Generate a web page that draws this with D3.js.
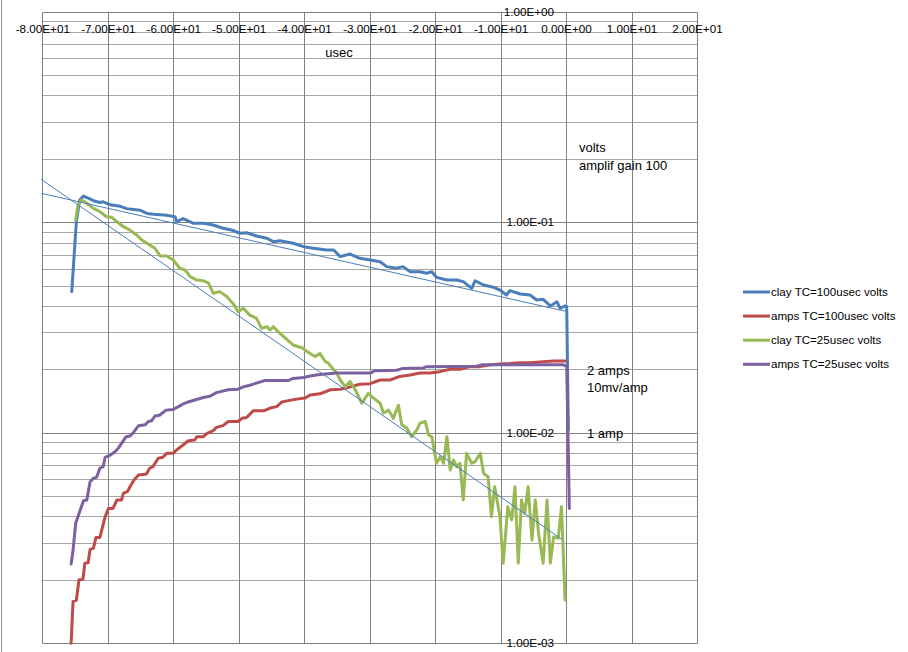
<!DOCTYPE html>
<html>
<head>
<meta charset="utf-8">
<script src="https://cdn.jsdelivr.net/npm/d3@7"></script>
<style>
  body { margin: 0; background: #fff; }
  text { font-family: "Liberation Sans", Arial, sans-serif; fill: #000; }
</style>
</head>
<body>
<script>
// usec, volts
const clay100 = [[-75.5,0.0468],[-74.8,0.1005],[-74.3,0.1275],[-73.7,0.133],[-73.2,0.131],[-72.2,0.1265],[-71.2,0.124],[-70.7,0.125],[-69.6,0.121],[-68.1,0.119],[-67.1,0.116],[-66.1,0.115],[-65.1,0.114],[-64.0,0.110],[-63.0,0.109],[-61.0,0.108],[-59.7,0.106],[-59.5,0.1005],[-58.5,0.104],[-56.9,0.0988],[-55.4,0.0988],[-53.9,0.097],[-52.4,0.0936],[-51.1,0.0918],[-49.8,0.0886],[-48.8,0.0891],[-47.3,0.086],[-45.7,0.0839],[-44.7,0.0808],[-43.7,0.0817],[-41.7,0.0794],[-40.1,0.0765],[-38.6,0.0752],[-36.6,0.0738],[-35.5,0.0738],[-34.5,0.0686],[-33.0,0.0706],[-31.5,0.0674],[-29.9,0.0661],[-28.4,0.0649],[-27.4,0.0615],[-25.9,0.0604],[-24.9,0.0615],[-23.8,0.0582],[-22.3,0.0582],[-21.3,0.0572],[-20.5,0.0582],[-19.8,0.0547],[-18.2,0.0531],[-16.7,0.0531],[-15.7,0.0522],[-14.4,0.0485],[-13.9,0.0527],[-12.6,0.0503],[-11.1,0.0491],[-10.1,0.0476],[-9.1,0.0451],[-8.6,0.0473],[-7.0,0.0456],[-5.5,0.0451],[-4.5,0.0427],[-3.5,0.043],[-2.4,0.040],[-1.4,0.0419],[-0.9,0.039],[-0.15,0.040],[0.1,0.0398],[0.35,0.0103]];

const amps100 = [[-75.6,0.001],[-75.3,0.00158],[-74.8,0.0016],[-74.4,0.002],[-73.8,0.00201],[-73.5,0.0024],[-73.0,0.00241],[-72.7,0.00279],[-72.2,0.00282],[-71.8,0.00318],[-71.2,0.00318],[-70.4,0.00399],[-69.9,0.00437],[-69.2,0.00437],[-68.6,0.00479],[-67.9,0.00479],[-67.6,0.00516],[-67.0,0.00525],[-66.6,0.00554],[-66.0,0.00596],[-65.3,0.0063],[-64.1,0.00637],[-63.6,0.00678],[-63.1,0.0069],[-62.3,0.00756],[-61.6,0.00764],[-61.0,0.00798],[-60.0,0.00798],[-59.5,0.00828],[-58.5,0.00874],[-57.7,0.00916],[-56.7,0.00923],[-56.4,0.00957],[-55.4,0.00957],[-54.9,0.0099],[-53.9,0.01022],[-53.4,0.0106],[-52.4,0.0108],[-51.6,0.0113],[-50.1,0.0113],[-49.5,0.0117],[-48.8,0.0118],[-47.8,0.0127],[-46.2,0.0127],[-45.2,0.0131],[-44.2,0.0133],[-43.4,0.0140],[-42.4,0.0142],[-41.4,0.0144],[-39.9,0.0146],[-39.1,0.0151],[-37.6,0.0153],[-36.0,0.0160],[-34.5,0.0161],[-33.0,0.0165],[-31.5,0.0170],[-29.9,0.0171],[-28.4,0.0178],[-26.9,0.0178],[-25.4,0.0185],[-23.8,0.0188],[-22.3,0.0192],[-20.8,0.0192],[-19.3,0.0195],[-17.7,0.0200],[-16.2,0.0200],[-14.7,0.0206],[-13.1,0.0206],[-11.6,0.0210],[-10.1,0.0212],[-8.6,0.0213],[-7.0,0.0215],[-5.5,0.0215],[-4.0,0.0217],[-1.9,0.0219],[-0.15,0.0219]];

const clay25 = [[-74.9,0.1024],[-74.6,0.1185],[-74.2,0.1265],[-74.0,0.1275],[-73.2,0.123],[-72.2,0.1164],[-71.2,0.1122],[-70.2,0.1062],[-69.4,0.1055],[-68.6,0.1005],[-67.6,0.0952],[-66.8,0.0925],[-65.6,0.087],[-64.8,0.0823],[-63.6,0.0779],[-62.8,0.0752],[-62.0,0.0691],[-61.0,0.0691],[-60.0,0.0661],[-59.0,0.0604],[-58.2,0.0593],[-57.4,0.0551],[-56.4,0.0531],[-55.4,0.0527],[-54.6,0.0513],[-53.9,0.046],[-52.9,0.0468],[-51.8,0.0443],[-50.8,0.0409],[-50.1,0.0376],[-49.3,0.039],[-48.3,0.0362],[-47.3,0.035],[-46.5,0.0313],[-45.7,0.0319],[-45.2,0.0308],[-44.7,0.0319],[-44.0,0.0302],[-42.7,0.0278],[-41.7,0.0261],[-40.9,0.0256],[-40.1,0.0252],[-39.9,0.0247],[-39.1,0.0238],[-38.3,0.023],[-37.6,0.0238],[-36.8,0.0218],[-36.3,0.0214],[-35.5,0.0199],[-35.0,0.0192],[-34.5,0.0178],[-33.7,0.0165],[-33.0,0.0175],[-32.2,0.016],[-31.2,0.0138],[-30.2,0.0154],[-29.4,0.0146],[-28.4,0.0138],[-27.9,0.0124],[-27.1,0.0128],[-26.4,0.0117],[-25.6,0.0135],[-25.1,0.0109],[-24.3,0.0105],[-23.6,0.00957],[-22.8,0.0103],[-22.3,0.0111],[-21.5,0.0113],[-21.0,0.00975],[-20.5,0.00957],[-19.8,0.00716],[-19.2,0.00769],[-18.7,0.00716],[-18.2,0.00957],[-17.7,0.00665],[-17.2,0.00742],[-16.7,0.0069],[-16.2,0.00716],[-15.7,0.00479],[-15.2,0.00798],[-14.4,0.00716],[-13.9,0.00728],[-13.1,0.00798],[-12.6,0.00641],[-11.9,0.00618],[-11.4,0.00399],[-10.9,0.00554],[-10.1,0.00399],[-9.6,0.0024],[-8.9,0.00445],[-8.3,0.00385],[-7.8,0.00554],[-7.3,0.0024],[-6.8,0.00479],[-6.3,0.00414],[-5.8,0.00554],[-5.2,0.00309],[-4.7,0.00479],[-4.2,0.00333],[-3.5,0.0024],[-2.9,0.00479],[-2.4,0.0024],[-1.9,0.0032],[-1.2,0.00315],[-0.7,0.00445],[-0.15,0.0016]];

const amps25 = [[-75.6,0.00238],[-75.3,0.00277],[-74.9,0.00371],[-74.3,0.00421],[-73.7,0.00475],[-73.2,0.00479],[-72.7,0.00585],[-72.2,0.00607],[-71.7,0.00614],[-71.2,0.00678],[-70.7,0.0069],[-70.4,0.00764],[-69.6,0.00783],[-68.9,0.00812],[-68.4,0.00843],[-67.9,0.0089],[-67.2,0.00957],[-66.6,0.00965],[-66.1,0.01],[-65.3,0.0108],[-64.3,0.0109],[-63.8,0.0113],[-63.3,0.0114],[-62.8,0.0120],[-62.1,0.0121],[-61.1,0.0128],[-60.0,0.0129],[-59.2,0.0133],[-58.5,0.0137],[-57.7,0.0140],[-56.7,0.0143],[-55.4,0.0147],[-54.4,0.0149],[-53.4,0.0155],[-51.6,0.0160],[-50.1,0.0161],[-49.3,0.0165],[-48.3,0.0168],[-47.3,0.0172],[-46.0,0.0177],[-42.4,0.0177],[-41.7,0.0181],[-40.1,0.0183],[-39.1,0.0186],[-37.6,0.0189],[-35.1,0.0192],[-29.9,0.0192],[-29.2,0.0197],[-25.9,0.0198],[-24.9,0.0202],[-21.8,0.0203],[-21.3,0.0206],[-13.7,0.0207],[-12.9,0.0210],[-0.4,0.0210],[0.1,0.0207],[0.5,0.00437]];

// exponential trendlines (straight on the log axis), end points
const trendClay100 = [[-80.1,0.137],[0,0.0377]];
const trendClay25 = [[-80.2,0.16],[-0.6,0.00311]];

const seriesNames = ["clay TC=100usec volts", "amps TC=100usec volts", "clay TC=25usec volts", "amps TC=25usec volts"];
const seriesColors = ["#4a7ebb", "#be4b48", "#98b954", "#7d60a0"];
const yLabelValues = [1e-3, 1e-2, 1e-1, 1];

const notes = [
  {text: "volts", x: 579, y: 147.7},
  {text: "amplif gain 100", x: 579, y: 165.7},
  {text: "2 amps", x: 587, y: 370},
  {text: "10mv/amp", x: 587, y: 387.7},
  {text: "1 amp", x: 587, y: 433.3}
];

const W = 908, H = 652;
const svg = d3.select("body").append("svg").attr("width", W).attr("height", H);

const x = d3.scaleLinear().domain([-80, 20]).range([42.3, 697]);
const y = d3.scaleLog().domain([1e-3, 1]).range([643.2, 11.7]);

// Excel style 1.00E+01, plain hyphen for the minus
const fmt = d3.formatLocale({decimal: ".", thousands: ",", grouping: [3], currency: ["", ""], minus: "-"}).format(".2e");
function sci(v) {
  const parts = fmt(v).split("e");
  const e = +parts[1];
  return parts[0] + "E" + (e < 0 ? "-" : "+") + String(Math.abs(e)).padStart(2, "0");
}
const crisp = v => Math.round(v) + 0.5;

// chart border on the left
svg.append("line")
  .attr("x1", 1.5).attr("x2", 1.5).attr("y1", 0).attr("y2", H)
  .attr("stroke", "#8c8c8c");

// gridlines
const isDecade = d => Math.abs(Math.log10(d) - Math.round(Math.log10(d))) < 1e-6;
svg.append("g").selectAll("line")
  .data(y.ticks())
  .join("line")
  .attr("x1", crisp(x(-80))).attr("x2", crisp(x(20)))
  .attr("y1", d => crisp(y(d))).attr("y2", d => crisp(y(d)))
  .attr("stroke", d => isDecade(d) ? "#808080" : "#a6a6a6");

svg.append("g").selectAll("line")
  .data(x.ticks(10))
  .join("line")
  .attr("x1", d => crisp(x(d))).attr("x2", d => crisp(x(d)))
  .attr("y1", crisp(y(1))).attr("y2", crisp(y(1e-3)))
  .attr("stroke", "#808080");

// axes (horizontal axis crosses at 1, vertical axis at 0)
svg.append("g")
  .attr("transform", `translate(0,${y(1)})`)
  .call(d3.axisBottom(x).ticks(10).tickSize(0).tickPadding(13.5).tickFormat(sci))
  .call(g => g.select(".domain").remove())
  .call(g => g.selectAll("text").attr("font-size", 11.7).attr("font-family", null));

svg.append("g")
  .attr("transform", `translate(${x(0)},0)`)
  .call(d3.axisLeft(y).tickValues(yLabelValues).tickSize(0).tickPadding(12).tickFormat(sci))
  .call(g => g.select(".domain").remove())
  .call(g => g.selectAll("text").attr("font-size", 11.7).attr("font-family", null));

svg.append("text")
  .attr("x", 339).attr("y", 52).attr("dy", "0.35em")
  .attr("text-anchor", "middle").attr("font-size", 13)
  .text("usec");

// series
const line = d3.line().x(d => x(d[0])).y(d => y(d[1]));
const allSeries = [clay100, amps100, clay25, amps25];

svg.append("g").selectAll("path")
  .data(allSeries)
  .join("path")
  .attr("d", line)
  .attr("fill", "none")
  .attr("stroke", (d, i) => seriesColors[i])
  .attr("stroke-width", 3)
  .attr("stroke-linejoin", "round")
  .attr("stroke-linecap", "round");

svg.append("g").selectAll("path")
  .data([trendClay100, trendClay25])
  .join("path")
  .attr("d", line)
  .attr("fill", "none")
  .attr("stroke", "#4a7ebb")
  .attr("stroke-width", 1);

// notes
svg.append("g").selectAll("text")
  .data(notes)
  .join("text")
  .attr("x", d => d.x).attr("y", d => d.y).attr("dy", "0.35em")
  .attr("font-size", 13)
  .text(d => d.text);

// legend
const legend = svg.append("g").selectAll("g")
  .data(seriesNames)
  .join("g")
  .attr("transform", (d, i) => `translate(743,${292 + i * 24.1})`);
legend.append("line")
  .attr("x1", 0).attr("x2", 27)
  .attr("stroke", (d, i) => seriesColors[i])
  .attr("stroke-width", 3);
legend.append("text")
  .attr("x", 28).attr("dy", "0.35em")
  .attr("font-size", 11.6)
  .text(d => d);
</script>
</body>
</html>
